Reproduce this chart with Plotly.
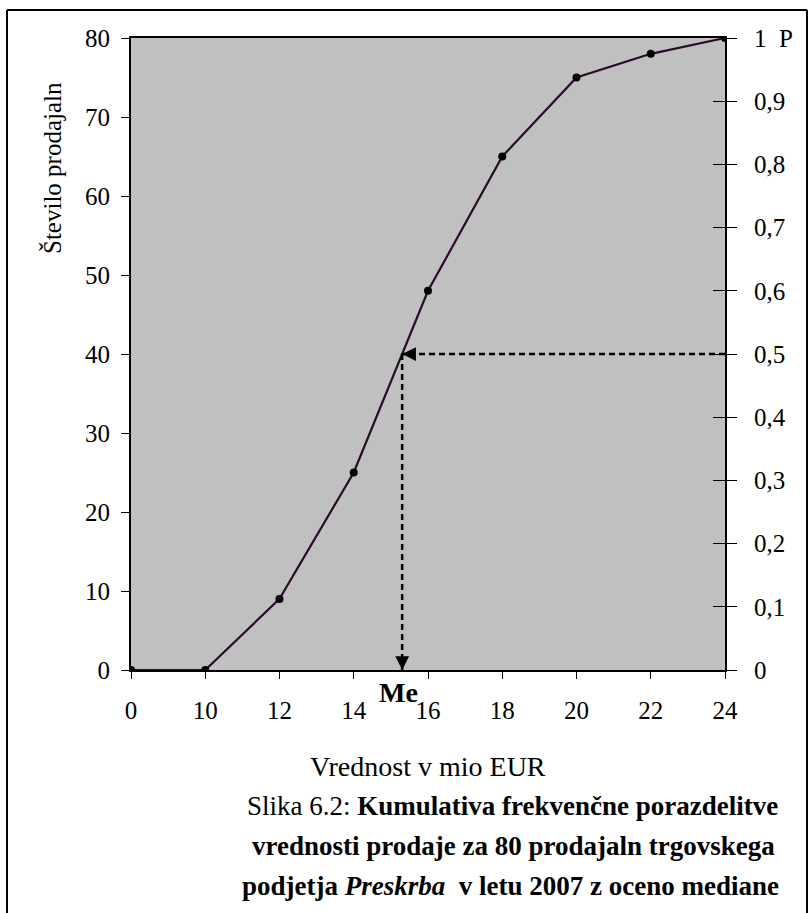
import plotly.graph_objects as go

# ---- data ----
categories = ["0", "10", "12", "14", "16", "18", "20", "22", "24"]
cum_freq = [0, 0, 9, 25, 48, 65, 75, 78, 80]
y_ticks = [0, 10, 20, 30, 40, 50, 60, 70, 80]
p_ticks = [0, 0.1, 0.2, 0.3, 0.4, 0.5, 0.6, 0.7, 0.8, 0.9, 1.0]
p_labels = ["0", "0,1", "0,2", "0,3", "0,4", "0,5", "0,6", "0,7", "0,8", "0,9", "1\u00a0\u00a0P"]
median_level = 40  # N/2

# median position on category axis (linear interpolation between classes)
med_idx = None
for i in range(1, len(cum_freq)):
    if cum_freq[i - 1] <= median_level <= cum_freq[i] and cum_freq[i] != cum_freq[i - 1]:
        med_idx = (i - 1) + (median_level - cum_freq[i - 1]) / (cum_freq[i] - cum_freq[i - 1])
        break

W, H = 810, 913
L, R, T, B = 131, 725, 38, 670
pw, ph = R - L, B - T


def px(xp):
    return (xp - L) / pw


def py(yp):
    return (B - yp) / ph


FONT = "Liberation Serif, Times New Roman, serif"

fig = go.Figure()
fig.add_trace(go.Scatter(
    x=categories, y=cum_freq, mode="lines+markers",
    line=dict(color="#2a0a2a", width=2.2),
    marker=dict(color="black", size=8),
    showlegend=False, hoverinfo="skip",
))
# invisible traces to activate secondary axes
fig.add_trace(go.Scatter(x=[categories[0]], y=[0], yaxis="y2", mode="markers",
                         marker=dict(opacity=0), showlegend=False, hoverinfo="skip"))
fig.add_trace(go.Scatter(x=[categories[0]], y=[0], yaxis="y3", mode="markers",
                         marker=dict(opacity=0), showlegend=False, hoverinfo="skip"))

max_idx = len(categories) - 1

# dashed guide lines
fig.add_shape(type="line", xref="x", yref="y", x0=max_idx, x1=med_idx, y0=median_level, y1=median_level,
              line=dict(color="black", width=2.5, dash="6px,4px"))
fig.add_shape(type="line", xref="x", yref="y", x0=med_idx, x1=med_idx, y0=median_level, y1=0,
              line=dict(color="black", width=2.5, dash="6px,4px"))

# arrowheads
fig.add_annotation(x=med_idx, y=median_level, xref="x", yref="y", ax=14, ay=0, text="",
                   showarrow=True, arrowhead=2, arrowsize=1.1, arrowwidth=2.5, arrowcolor="black")
fig.add_annotation(x=med_idx, y=0, xref="x", yref="y", ax=0, ay=-14, text="",
                   showarrow=True, arrowhead=2, arrowsize=1.1, arrowwidth=2.5, arrowcolor="black")

# Me label
fig.add_annotation(x=med_idx, y=0, xref="x", yref="y", text="<b>Me</b>", showarrow=False,
                   yshift=-22, xshift=-4, font=dict(family=FONT, size=28, color="black"))

# axis titles
fig.add_annotation(x=px(52), y=py(168), xref="paper", yref="paper", text="Število prodajaln",
                   xanchor="center", yanchor="middle",
                   textangle=-90, showarrow=False, font=dict(family=FONT, size=25, color="black"))
fig.add_annotation(x=px(428), y=py(766), xref="paper", yref="paper", text="Vrednost v mio EUR",
                   xanchor="center", yanchor="middle",
                   showarrow=False, font=dict(family=FONT, size=28, color="black"))

# caption
cap = [
    ("Slika 6.2: <b>Kumulativa frekvenčne porazdelitve</b>", 512, 806),
    ("<b>vrednosti prodaje za 80 prodajaln trgovskega</b>", 513, 846),
    ("<b>podjetja <i>Preskrba</i>  v letu 2007 z oceno mediane</b>", 510, 886),
]
for txt, cx, cy in cap:
    fig.add_annotation(x=px(cx), y=py(cy), xref="paper", yref="paper", text=txt,
                       xanchor="center", yanchor="middle",
                       showarrow=False, font=dict(family=FONT, size=27, color="black"))

# outer frame
fig.add_shape(type="line", xref="paper", yref="paper", x0=px(7), x1=px(7), y0=py(10), y1=py(913),
              line=dict(color="black", width=2))
fig.add_shape(type="line", xref="paper", yref="paper", x0=px(7), x1=px(807), y0=py(10), y1=py(10),
              line=dict(color="black", width=2))
fig.add_shape(type="line", xref="paper", yref="paper", x0=px(807), x1=px(807), y0=py(10), y1=py(913),
              line=dict(color="black", width=2))

axfont = dict(family=FONT, size=25, color="black")
fig.update_layout(
    width=W, height=H,
    margin=dict(l=L, r=W - R, t=T, b=H - B),
    paper_bgcolor="white", plot_bgcolor="#C0C0C0",
    xaxis=dict(type="category", range=[0, max_idx], showgrid=False, zeroline=False,
               showline=True, linecolor="black", linewidth=2, mirror=True,
               ticks="outside", ticklen=7, tickwidth=1, tickcolor="black",
               tickfont=axfont, ticklabelstandoff=10),
    yaxis=dict(range=[0, 80], tickvals=y_ticks, showgrid=False, zeroline=False,
               showline=True, linecolor="black", linewidth=2,
               ticks="outside", ticklen=8, tickwidth=1, tickcolor="black",
               tickfont=axfont, ticklabelstandoff=6),
    yaxis2=dict(range=[0, 1], overlaying="y", side="right", tickvals=p_ticks, ticktext=p_labels,
                showgrid=False, zeroline=False, showline=True, linecolor="black", linewidth=2,
                ticks="outside", ticklen=10, tickwidth=1, tickcolor="black",
                tickfont=axfont, ticklabelstandoff=12),
    yaxis3=dict(range=[0, 1], overlaying="y", side="right", tickvals=p_ticks[1:-1],
                showticklabels=False, showgrid=False, zeroline=False, showline=False,
                ticks="inside", ticklen=12, tickwidth=1, tickcolor="black"),
    showlegend=False,
)

fig.write_html("out.html")
